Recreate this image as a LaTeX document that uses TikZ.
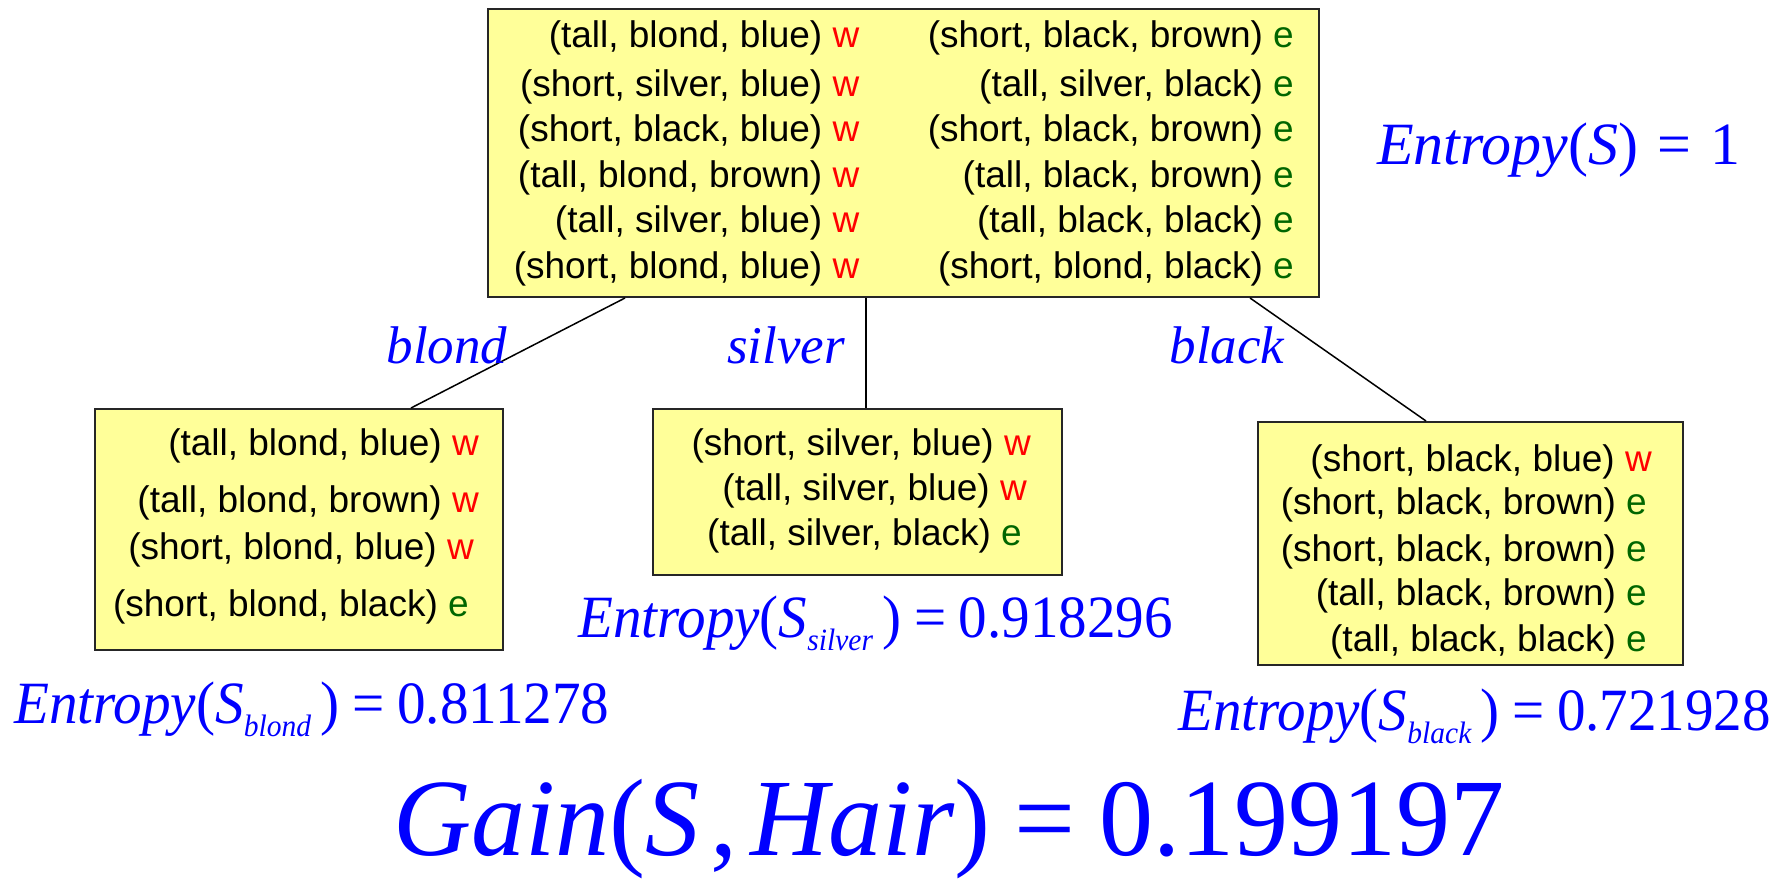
\documentclass[tikz,border=0pt]{standalone}
\usepackage{fontspec}
\setmainfont{Liberation Sans}
\newfontfamily\tms{Liberation Serif}
\definecolor{boxfill}{HTML}{FFFF99}
\definecolor{egreen}{HTML}{006600}
\newcommand\W{\textcolor{red}{w}}
\newcommand\E{\textcolor{egreen}{e}}
\newcommand\sbx[1]{\raisebox{-13pt}{\fontsize{31}{31}\selectfont\itshape #1}}
\newcommand\eqs{\hspace{0.22em}=\hspace{0.22em}}
\newcommand\eqw{\hspace{0.32em}=\hspace{0.32em}}
\tikzset{
  box/.style={draw=black!85, line width=2pt, fill=boxfill, rectangle, inner sep=0pt},
  row/.style={anchor=east, inner sep=0pt, font=\fontsize{37}{44}\selectfont},
  conn/.style={draw=black, line width=1.5pt},
  branch/.style={anchor=base, inner sep=0pt, text=blue, font=\tms\itshape\fontsize{53}{60}\selectfont},
  ent/.style={anchor=base west, inner sep=0pt, text=blue, font=\tms\fontsize{60}{70}\selectfont},
  gain/.style={anchor=base west, inner sep=0pt, text=blue, font=\tms\fontsize{110}{120}\selectfont}
}
\begin{document}
\begin{tikzpicture}[x=1pt,y=-1pt]
\useasboundingbox (0,0) rectangle (1785,882);
% boxes
\node[box, minimum width=831pt, minimum height=288pt] (top) at (903.5,153) {};
\node[box, minimum width=408.5pt, minimum height=241pt] (left) at (298.75,529.5) {};
\node[box, minimum width=409pt, minimum height=166pt] (mid) at (857.5,492) {};
\node[box, minimum width=425pt, minimum height=243pt] (right) at (1470.5,543.5) {};
% connectors
\draw[conn] ([xshift=-278.5pt]top.south) -- ([xshift=112.25pt]left.north);
\draw[conn] ([xshift=-37.5pt]top.south) -- ([xshift=8.5pt]mid.north);
\draw[conn] ([xshift=346.5pt]top.south) -- ([xshift=-44.5pt]right.north);
% top rows
\node[row] (t1) at (859.5,38) {(tall, blond, blue) \W};
\node[row] (t2) at (859.5,87) {(short, silver, blue) \W};
\node[row] (t3) at (859.5,131.5) {(short, black, blue) \W};
\node[row] (t4) at (859.5,178) {(tall, blond, brown) \W};
\node[row] (t5) at (859.5,222.6) {(tall, silver, blue) \W};
\node[row] (t6) at (859.5,269) {(short, blond, blue) \W};
\node[row] (u1) at (1294,38) {(short, black, brown) \E};
\node[row] (u2) at (1294,87) {(tall, silver, black) \E};
\node[row] (u3) at (1294,131.5) {(short, black, brown) \E};
\node[row] (u4) at (1294,178) {(tall, black, brown) \E};
\node[row] (u5) at (1294,222.6) {(tall, black, black) \E};
\node[row] (u6) at (1294,269) {(short, blond, black) \E};
% left rows
\node[row] (l1) at (479,445.7) {(tall, blond, blue) \W};
\node[row] (l2) at (479,502.6) {(tall, blond, brown) \W};
\node[row] (l3) at (474,550.4) {(short, blond, blue) \W};
\node[row] (l4) at (469,607.4) {(short, blond, black) \E};
% middle rows
\node[row] (m1) at (1031,445.7) {(short, silver, blue) \W};
\node[row] (m2) at (1027,491.2) {(tall, silver, blue) \W};
\node[row] (m3) at (1022,535.6) {(tall, silver, black) \E};
% right rows
\node[row] (r1) at (1652,461.6) {(short, black, blue) \W};
\node[row] (r2) at (1647,505) {(short, black, brown) \E};
\node[row] (r3) at (1647,551.6) {(short, black, brown) \E};
\node[row] (r4) at (1647,596) {(tall, black, brown) \E};
\node[row] (r5) at (1647,641.5) {(tall, black, black) \E};
% branch labels
\node[branch] (bb) at (447,363) {blond};
\node[branch] (bs) at (786,363) {silver};
\node[branch] (bk) at (1227,363) {black};
% entropies
\node[ent] (e0) at (1377,165) {\textit{Entropy}(\textit{S})\eqw1};
\node[ent] (e1) at (14,723) {\scalebox{0.953}[1]{\textit{Entropy}(\textit{S}\sbx{blond}\,)\eqs0.811278}};
\node[ent] (e2) at (578,637.5) {\scalebox{0.951}[1]{\textit{Entropy}(\textit{S}\sbx{silver}\,)\eqs0.918296}};
\node[ent] (e3) at (1178,730) {\scalebox{0.951}[1]{\textit{Entropy}(\textit{S}\sbx{black}\,)\eqs0.721928}};
% gain
\node[gain] (g) at (393,855) {\scalebox{0.983}[1]{\textit{Gain}(\textit{S}\hspace{0.1em},\hspace{0.12em}\textit{Hair})\eqs0.199197}};
\end{tikzpicture}
\end{document}
